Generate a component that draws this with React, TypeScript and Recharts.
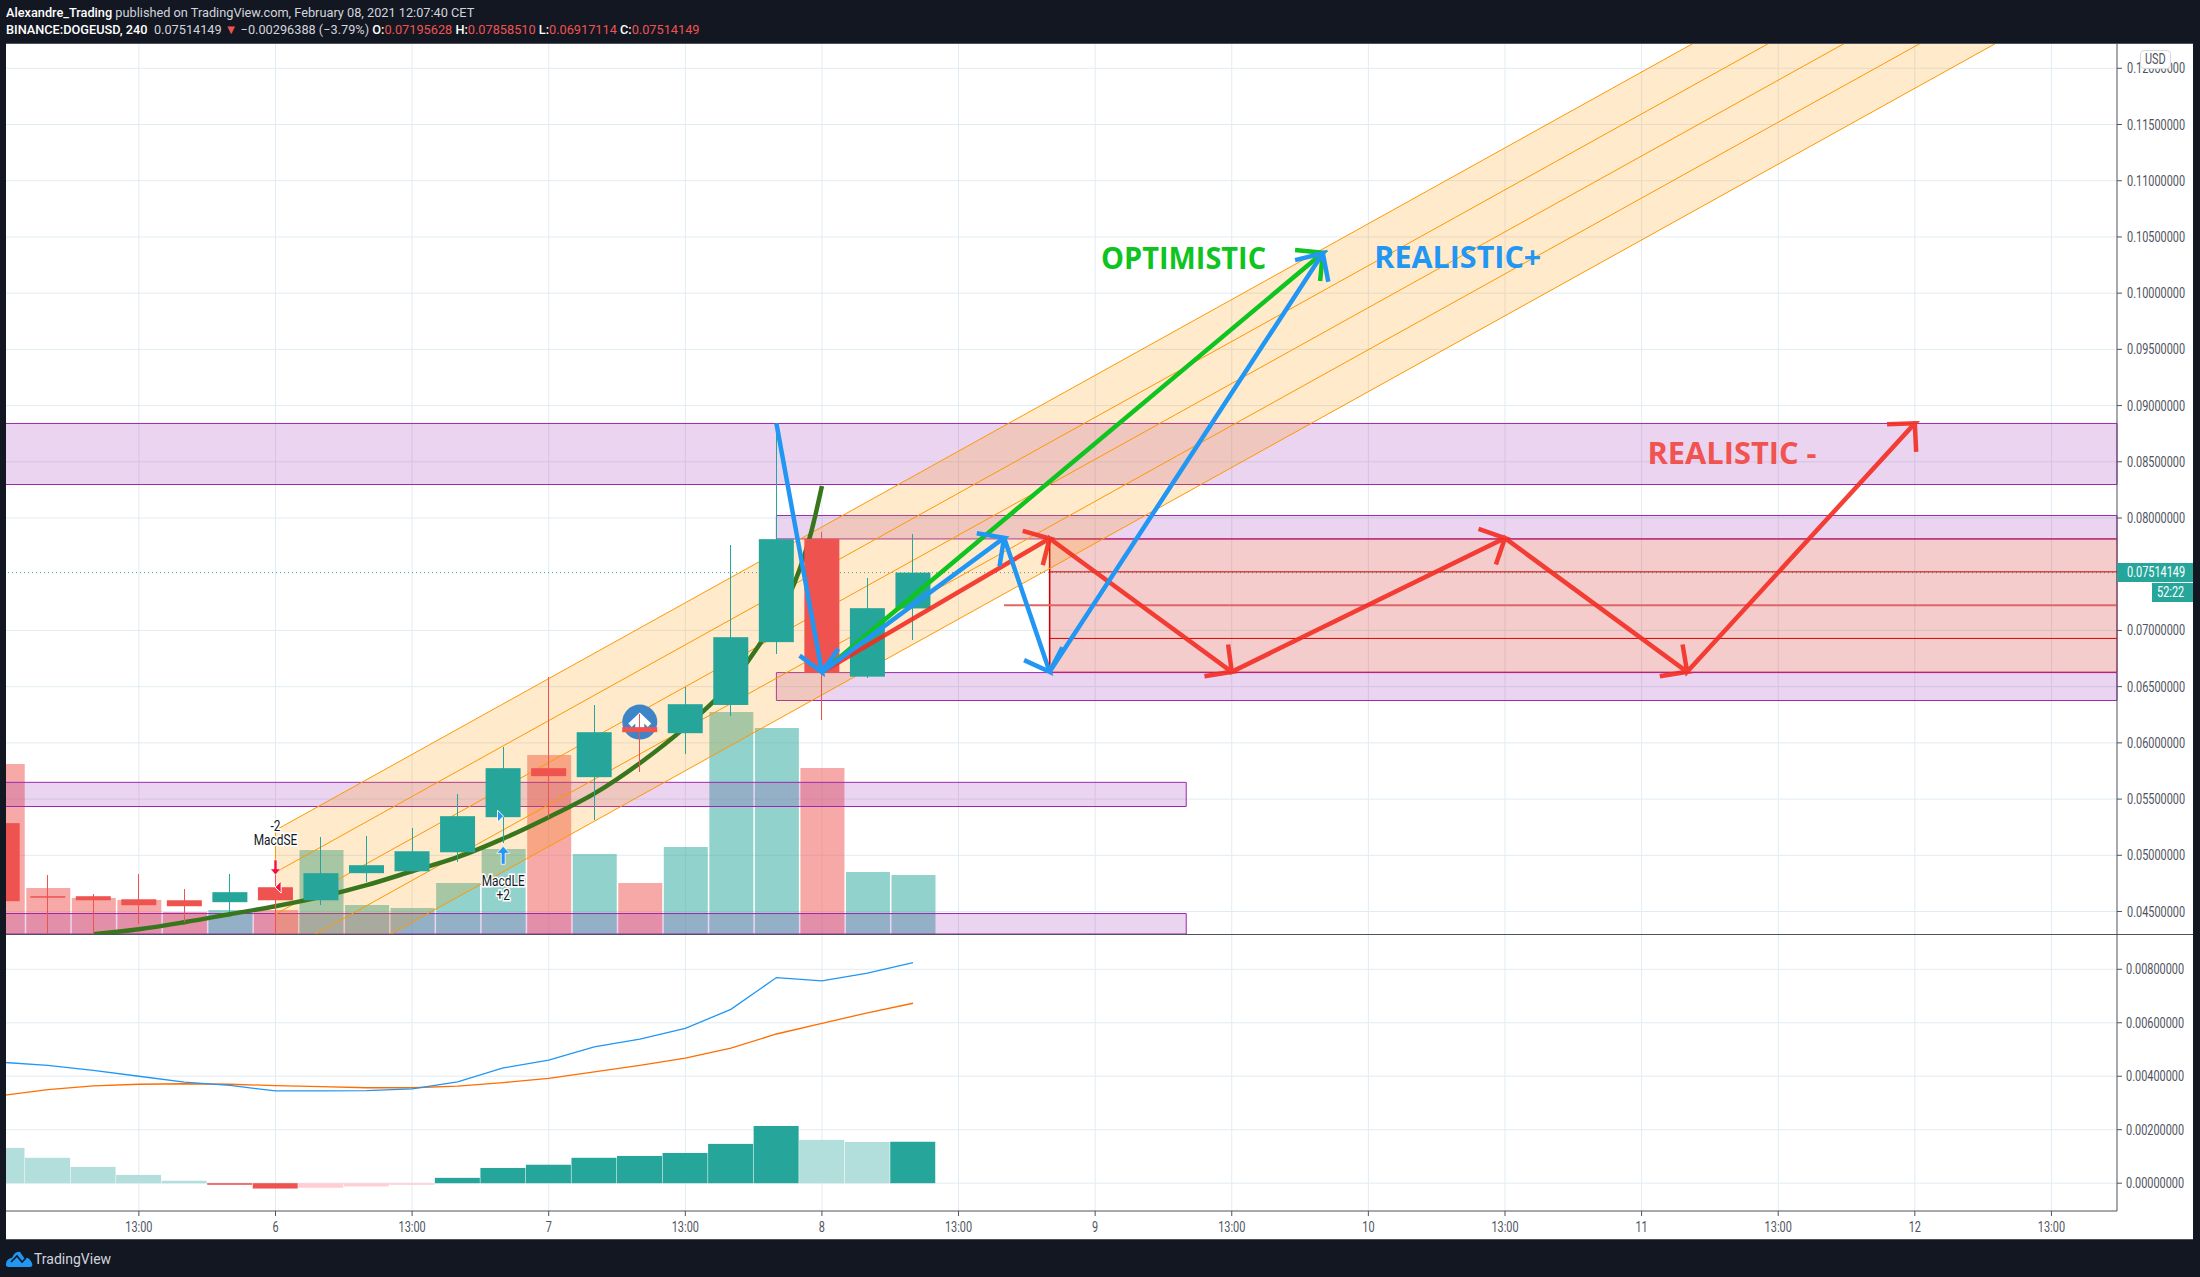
import React from "react";
import { ComposedChart, Bar, Line, Area, XAxis, YAxis, CartesianGrid, ReferenceArea, ReferenceLine, ReferenceDot } from "recharts";

const candleIdx = [-6,-5,-4,-3,-2,-1,0,1,2,3,4,5,6,7,8,9,10,11,12,13,14];
const opens  = [.05286,.04636,.04636,.04609,.04600,.04583,.04716,.04600,.04841,.04858,.05027,.05339,.05775,.05695,.06140,.06086,.06337,.06896,.07814,.06589,.07195628];
const closes = [.04592,.04627,.04600,.04556,.04547,.04672,.04600,.04841,.04912,.05036,.05348,.05775,.05704,.06095,.06095,.06344,.06940,.07812,.06623,.07198,.07514149];
const highs  = [.0535,.04823,.04654,.04832,.04698,.04832,.04852,.05161,.05170,.05241,.05544,.05964,.06584,.06335,.06255,.06497,.07759,.08841,.07875,.07465,.07858510];
const lows   = [.0425,.0425,.0425,.04387,.04407,.04496,.0425,.04556,.04760,.04858,.04938,.05110,.05332,.05312,.05739,.05899,.06239,.06791,.06205,.06580,.06917114];
const volumes = [1700,460,360,340,220,240,240,840,290,260,510,850,1790,800,510,870,2220,2060,1660,620,590];
const macdHist = [.00132,.00095,.00061,.00031,.00009,-.00006,-.00020,-.00017,-.00012,-.00006,.00020,.00057,.00069,.00095,.00102,.00113,.00147,.00214,.00162,.00154,.00155];
const macdLine = [.00452,.00441,.00422,.00400,.00378,.00366,.00345,.00345,.00346,.00353,.00379,.00431,.00460,.00510,.00539,.00579,.00650,.00769,.00757,.00786,.00825];
const signalLine = [.00328,.00350,.00364,.00370,.00372,.00370,.00365,.00361,.00357,.00357,.00363,.00376,.00392,.00416,.00441,.00468,.00505,.00558,.00598,.00637,.00673];

const emaX = [-4,-3,-2,-1,0,1,2,3,4,5,6,7,8,9,10,11,11.4,11.77,12];
const emaY = [.04298,.04342,.04405,.04476,.04547,.04630,.04734,.04858,.04983,.05148,.05339,.05548,.05819,.06140,.06531,.07118,.07425,.07883,.08284];

const channelX = [0, 40];
const channelStart = [.05223,.04849,.04476,.04102,.03729];
const channelEnd = [.14215,.13842,.13468,.13094,.12721];

const greenX = [12,23,22.39,23,22.94];
const greenY = [.06629,.10359,.10383,.10359,.10108];
const blueX = [11,12,11.51,12,12.36,12,16,15.40,16,15.90,16,17,16.44,17,17.28,17,23,22.39,23,23.12];
const blueY = [.08841,.06629,.06776,.06629,.06837,.06629,.07824,.07865,.07824,.07572,.07824,.06632,.06736,.06632,.06851,.06632,.10354,.10294,.10354,.10101];
const redX = [12,17,16.41,17,16.85,17,21,20.40,21,20.92,21,27,26.42,27,26.80,27,31,30.40,31,30.90,31,36,35.39,36,36.03];
const redY = [.06629,.07818,.07886,.07818,.07581,.07818,.06632,.06593,.06632,.06875,.06632,.07821,.07904,.07821,.07587,.07821,.06632,.06593,.06632,.06875,.06632,.08842,.08833,.08842,.08589];

const xDomain: [number, number] = [-5.94, 40.44];
const priceDomain: [number, number] = [0.0430, 0.12225];
const macdDomain: [number, number] = [-0.00104, 0.00932];
const xTicks = [-3,0,3,6,9,12,15,18,21,24,27,30,33,36,39];
const xTickLabels = ["13:00","6","13:00","7","13:00","8","13:00","9","13:00","10","13:00","11","13:00","12","13:00"];
const priceTicks = [.045,.05,.055,.06,.065,.07,.08,.085,.09,.095,.10,.105,.11,.115,.12];
const macdTicks = [0,.002,.004,.006,.008];
const lastPrice = 0.07514149;

const candles = candleIdx.map((x, i) => ({ x, open: opens[i], close: closes[i], hl: [lows[i], highs[i]], vol: volumes[i] }));
const macdRows = candleIdx.map((x, i) => ({ x, hist: macdHist[i], macd: macdLine[i], signal: signalLine[i], prev: i ? macdHist[i - 1] : macdHist[0] + 1 }));
const pts = (xs: number[], ys: number[]) => xs.map((x, i) => ({ x, y: ys[i] }));

const TEAL = "#26a69a", RED = "#ef5350", PURPLE = "#9c27b0", ORANGE = "#ff9800";
const FONT = "Roboto,'Liberation Sans',sans-serif";
const fmt = (v: number) => v.toFixed(8);

const YTick = (p: any) => (
  <g transform={`translate(${p.x},${p.y}) scale(0.78,1)`}>
    <text x={0} y={0} dy="0.36em" fill="#50535e" fontSize={14} fontFamily={FONT} textAnchor="start">{fmt(p.payload.value)}</text>
  </g>
);
const XTick = (p: any) => (
  <g transform={`translate(${p.x},${p.y}) scale(0.78,1)`}>
    <text x={0} y={0} dy="0.9em" fill="#50535e" fontSize={14} fontFamily={FONT} textAnchor="middle">{xTickLabels[xTicks.indexOf(p.payload.value)]}</text>
  </g>
);

const VolumeShape = (p: any) => (
  <rect x={p.x + p.width / 2 - 22} y={p.y} width={44} height={p.height} fill={p.payload.close >= p.payload.open ? TEAL : RED} fillOpacity={0.5} />
);
const CandleShape = (p: any) => {
  const { x, y, width, height, payload } = p;
  const [lo, hi] = payload.hl;
  const k = height / (hi - lo);
  const yOf = (v: number) => y + (hi - v) * k;
  const up = payload.close >= payload.open;
  const top = yOf(Math.max(payload.open, payload.close));
  const bot = yOf(Math.min(payload.open, payload.close));
  const c = up ? TEAL : RED;
  const cx = x + width / 2;
  return (
    <g>
      <line x1={cx} x2={cx} y1={y} y2={y + height} stroke={c} strokeWidth={1} shapeRendering="crispEdges" />
      <rect x={cx - 17.5} y={top} width={35} height={Math.max(bot - top, 1.5)} fill={c} />
    </g>
  );
};
const HistShape = (p: any) => {
  const { hist, prev } = p.payload;
  const c = hist >= 0 ? (hist >= prev ? TEAL : "#b2dfdb") : (hist <= prev ? RED : "#ffcdd2");
  return <rect x={p.x} y={Math.min(p.y, p.y + p.height)} width={p.width} height={Math.abs(p.height)} fill={c} />;
};

const BigText = (value: string, color: string, len: number) => (p: any) => (
  <text x={p.cx} y={p.cy} fill={color} fontSize={31} fontWeight={700} fontFamily="'Open Sans',sans-serif" dominantBaseline="central" textLength={len} lengthAdjust="spacingAndGlyphs">{value}</text>
);
const halo = { paintOrder: "stroke", stroke: "#fff", strokeWidth: 3 } as const;
const SmallText = (lines: string[]) => (p: any) => (
  <g transform={`translate(${p.cx},${p.cy}) scale(0.85,1)`} fontFamily={FONT} fontSize={14} fill="#131722" textAnchor="middle" style={halo}>
    {lines.map((l, i) => <text key={l} x={0} y={i * 14} dominantBaseline="central">{l}</text>)}
  </g>
);
const DownArrow = (p: any) => (
  <path d={`M${p.cx - 1.5} ${p.cy - 8}h3v9h3.5l-5 6l-5 -6h3.5z`} fill="#f50f3c" stroke="#fff" strokeWidth={0.6} />
);
const UpArrow = (p: any) => (
  <path d={`M${p.cx - 2} ${p.cy + 9}h4v-11h4.5l-6.5 -7l-6.5 7h4.5z`} fill="#2196f3" stroke="#fff" strokeWidth={0.8} />
);
const LeftTri = (p: any) => <path d={`M${p.cx - 4} ${p.cy}l6 -6v12z`} fill="#f50f3c" stroke="#fff" strokeWidth={1} />;
const RightTri = (p: any) => <path d={`M${p.cx + 4} ${p.cy}l-6 -6v12z`} fill="#2196f3" stroke="#fff" strokeWidth={1} />;
const IdeaIcon = (p: any) => (
  <g transform={`translate(${p.cx},${p.cy})`}>
    <circle r={17.5} fill="#3d85c6" />
    <path d="M0 -9.5L11.5 1.5L8 5L4.5 1.5V10H-4.5V1.5L-8 5L-11.5 1.5Z" fill="#fff" />
  </g>
);

const head: React.CSSProperties = { position: "absolute", left: 6, fontFamily: FONT, fontSize: 13, color: "#d1d4dc", whiteSpace: "nowrap", lineHeight: "16px", transform: "scaleX(0.98)", transformOrigin: "left center" };
const W = ({ children }: any) => <b style={{ color: "#fff", fontWeight: 500 }}>{children}</b>;
const R = ({ children }: any) => <span style={{ color: "#ef5350" }}>{children}</span>;
const squeezed = (left: number, top: number, text: string, color: string) => (
  <div style={{ position: "absolute", left, top, color, fontFamily: FONT, fontSize: 14, lineHeight: "19px", whiteSpace: "nowrap", transform: "scaleX(0.78)", transformOrigin: "left center" }}>{text}</div>
);

const chartW = 2188, mainH = 891;

export default function App() {
  return (
    <div style={{ position: "fixed", left: 0, top: 0, width: 2200, height: 1277, background: "#131722", overflow: "hidden" }}>
      <div style={{ ...head, top: 5 }}><W>Alexandre_Trading</W> published on TradingView.com, February 08, 2021 12:07:40 CET</div>
      <div style={{ ...head, top: 22 }}>
        <W>BINANCE:DOGEUSD, 240</W>&nbsp; 0.07514149 <R>▼</R> −0.00296388 (−3.79%) <W>O:</W><R>0.07195628</R> <W>H:</W><R>0.07858510</R> <W>L:</W><R>0.06917114</R> <W>C:</W><R>0.07514149</R>
      </div>
      <div style={{ position: "absolute", left: 5, top: 43, width: 2188, height: 1197, background: "#fff" }} />

      {/* layer 1: grid, volume, drawings, EMA */}
      <div style={{ position: "absolute", left: 5, top: 43 }}>
        <ComposedChart width={chartW} height={mainH} data={candles} margin={{ top: 0, right: 0, bottom: 0, left: 0 }}>
          <XAxis dataKey="x" type="number" domain={xDomain} ticks={xTicks} allowDataOverflow hide />
          <YAxis yAxisId="main" orientation="right" width={76} type="number" domain={priceDomain} ticks={priceTicks} allowDataOverflow
            tick={YTick} tickSize={5} tickMargin={5} axisLine={{ stroke: "#50535e" }} tickLine={{ stroke: "#50535e" }} interval={0} />
          <YAxis yAxisId="vol" hide type="number" domain={[0, 8910]} allowDataOverflow />
          <CartesianGrid yAxisId="main" stroke="#e1ecf2" strokeWidth={1} verticalValues={xTicks} horizontalValues={priceTicks} />
          <Bar yAxisId="vol" dataKey="vol" barSize={44} shape={VolumeShape} isAnimationActive={false} zIndex={10} />
          <ReferenceArea yAxisId="main" x1={xDomain[0]} x2={xDomain[1]} y1={.08841} y2={.08298} fill={PURPLE} fillOpacity={0.2} stroke={PURPLE} zIndex={20} />
          <ReferenceArea yAxisId="main" x1={11} x2={xDomain[1]} y1={.08022} y2={.07814} fill={PURPLE} fillOpacity={0.2} stroke={PURPLE} zIndex={20} />
          <ReferenceArea yAxisId="main" x1={11} x2={xDomain[1]} y1={.06625} y2={.06377} fill={PURPLE} fillOpacity={0.2} stroke={PURPLE} zIndex={20} />
          <ReferenceArea yAxisId="main" x1={xDomain[0]} x2={20} y1={.05649} y2={.05434} fill={PURPLE} fillOpacity={0.2} stroke={PURPLE} zIndex={20} />
          <ReferenceArea yAxisId="main" x1={xDomain[0]} x2={20} y1={.04482} y2={priceDomain[0]} fill={PURPLE} fillOpacity={0.2} stroke={PURPLE} zIndex={20} />
          <ReferenceArea yAxisId="main" x1={17} x2={xDomain[1]} y1={.07814} y2={.06629} fill="#cc0000" fillOpacity={0.2} stroke="#c2185b" zIndex={21} />
          <ReferenceLine yAxisId="main" segment={[{ x: 17, y: .07814 }, { x: 17, y: .06629 }]} stroke="#cc0000" strokeWidth={1.5} zIndex={22} />
          <ReferenceLine yAxisId="main" y={lastPrice} stroke={TEAL} strokeDasharray="1 3" zIndex={22} />
          <ReferenceLine yAxisId="main" segment={[{ x: 17, y: .07521 }, { x: xDomain[1], y: .07521 }]} stroke="#cc0000" zIndex={22} />
          <ReferenceLine yAxisId="main" segment={[{ x: 16, y: .07225 }, { x: xDomain[1], y: .07225 }]} stroke="#e06666" strokeWidth={2} zIndex={22} />
          <ReferenceLine yAxisId="main" segment={[{ x: 17, y: .06929 }, { x: xDomain[1], y: .06929 }]} stroke="#dd0000" zIndex={22} />
          <Area yAxisId="main" type="linear" dataKey="band" data={channelX.map((x, i) => ({ x, band: [i ? channelEnd[4] : channelStart[4], i ? channelEnd[0] : channelStart[0]] }))}
            fill={ORANGE} fillOpacity={0.2} stroke="none" dot={false} isAnimationActive={false} zIndex={30} />
          {channelStart.map((s, k) => (
            <Line key={k} yAxisId="main" type="linear" dataKey="y" data={pts(channelX, [s, channelEnd[k]])} stroke={ORANGE} strokeWidth={1} dot={false} isAnimationActive={false} zIndex={31} />
          ))}
          <Line yAxisId="main" type="linear" dataKey="y" data={pts([0, 0], [channelStart[0], channelStart[4]])} stroke={ORANGE} strokeWidth={1} dot={false} isAnimationActive={false} zIndex={31} />
          <ReferenceDot yAxisId="main" x={8} y={.06185} r={0} shape={IdeaIcon} zIndex={32} />
          <Line yAxisId="main" type="monotone" dataKey="y" data={pts(emaX, emaY)} stroke="#38761d" strokeWidth={4.5} dot={false} isAnimationActive={false} zIndex={33} />
        </ComposedChart>
      </div>

      {/* layer 2: candles, signals, arrows, captions */}
      <div style={{ position: "absolute", left: 5, top: 43 }}>
        <ComposedChart width={chartW} height={mainH} data={candles} margin={{ top: 0, right: 76, bottom: 0, left: 0 }}>
          <XAxis dataKey="x" type="number" domain={xDomain} ticks={xTicks} allowDataOverflow hide />
          <YAxis yAxisId="main" hide type="number" domain={priceDomain} allowDataOverflow />
          <Bar yAxisId="main" dataKey="hl" barSize={44} shape={CandleShape} isAnimationActive={false} zIndex={10} />
          <ReferenceDot yAxisId="main" x={0} y={.05258} r={0} shape={SmallText(["-2", "MacdSE"])} zIndex={20} />
          <ReferenceDot yAxisId="main" x={0} y={.04888} r={0} shape={DownArrow} zIndex={20} />
          <ReferenceDot yAxisId="main" x={0.08} y={.04717} r={0} shape={LeftTri} zIndex={20} />
          <ReferenceDot yAxisId="main" x={5} y={.05} r={0} shape={UpArrow} zIndex={20} />
          <ReferenceDot yAxisId="main" x={5} y={.04770} r={0} shape={SmallText(["MacdLE", "+2"])} zIndex={20} />
          <ReferenceDot yAxisId="main" x={4.92} y={.05348} r={0} shape={RightTri} zIndex={20} />
          <Line yAxisId="main" type="linear" dataKey="y" data={pts(greenX, greenY)} stroke="#0fc320" strokeWidth={4.5} dot={false} isAnimationActive={false} zIndex={30} />
          <Line yAxisId="main" type="linear" dataKey="y" data={pts(redX, redY)} stroke="#f32c22" strokeOpacity={0.9} strokeWidth={4.5} dot={false} isAnimationActive={false} zIndex={31} />
          <Line yAxisId="main" type="linear" dataKey="y" data={pts(blueX, blueY)} stroke="#2196f3" strokeWidth={4.5} dot={false} isAnimationActive={false} zIndex={32} />
          <ReferenceDot yAxisId="main" x={18.13} y={.10321} r={0} shape={BigText("OPTIMISTIC", "#0fc320", 165)} zIndex={40} />
          <ReferenceDot yAxisId="main" x={24.13} y={.10330} r={0} shape={BigText("REALISTIC+", "#2196f3", 167)} zIndex={40} />
          <ReferenceDot yAxisId="main" x={30.13} y={.08586} r={0} shape={BigText("REALISTIC -", "#f05350", 169)} zIndex={40} />
        </ComposedChart>
      </div>

      {/* MACD panel */}
      <div style={{ position: "absolute", left: 5, top: 934 }}>
        <ComposedChart width={chartW} height={306} data={macdRows} margin={{ top: 0, right: 0, bottom: 0, left: 0 }}>
          <XAxis dataKey="x" type="number" domain={xDomain} ticks={xTicks} allowDataOverflow height={29} interval={0}
            tick={XTick} tickSize={5} tickMargin={3} axisLine={{ stroke: "#50535e" }} tickLine={{ stroke: "#50535e" }} />
          <YAxis orientation="right" width={76} type="number" domain={macdDomain} ticks={macdTicks} allowDataOverflow interval={0}
            tick={YTick} tickSize={5} tickMargin={4} axisLine={{ stroke: "#50535e" }} tickLine={{ stroke: "#50535e" }} />
          <CartesianGrid stroke="#e1ecf2" strokeWidth={1} verticalValues={xTicks} horizontalValues={macdTicks} />
          <Bar dataKey="hist" barSize={45} shape={HistShape} isAnimationActive={false} zIndex={10} />
          <Line type="linear" dataKey="signal" stroke="#ff6d00" strokeWidth={1.3} dot={false} isAnimationActive={false} zIndex={20} />
          <Line type="linear" dataKey="macd" stroke="#2196f3" strokeWidth={1.3} dot={false} isAnimationActive={false} zIndex={21} />
        </ComposedChart>
      </div>

      {/* frame lines */}
      <div style={{ position: "absolute", left: 0, top: 43, width: 6, height: 1197, background: "#131722" }} />
      <div style={{ position: "absolute", left: 6, top: 43, width: 2187, height: 1, background: "#4c525e" }} />
      <div style={{ position: "absolute", left: 6, top: 934, width: 2187, height: 1, background: "#4c525e" }} />
      <div style={{ position: "absolute", left: 6, top: 1239, width: 2187, height: 1, background: "#4c525e" }} />

      {/* price scale badges */}
      <div style={{ position: "absolute", left: 2117, top: 563, width: 76, height: 19, background: TEAL }} />
      {squeezed(2127, 563, "0.07514149", "#fff")}
      <div style={{ position: "absolute", left: 2152, top: 583, width: 41, height: 19, background: TEAL }} />
      {squeezed(2157, 583, "52:22", "#fff")}
      <div style={{ position: "absolute", left: 2140, top: 50, width: 31, height: 19, background: "#fff", border: "1px solid #d6d8e0", borderRadius: 4, boxSizing: "border-box" }} />
      {squeezed(2145, 50, "USD", "#50535e")}

      {/* footer */}
      <svg style={{ position: "absolute", left: 6, top: 1250 }} width={27} height={17}>
        <path d="M0 15C0 10 3 8 6 8C8 3 11 1 14 2C15 3 18 8 19 9C21 6 24 9 26 13C27 15 26 17 24 17H3C1 17 0 16 0 15Z" fill="#2196f3" />
        <path d="M5 12L11 6L16 12L20 8" stroke="#131722" strokeWidth={1.6} fill="none" />
      </svg>
      <div style={{ position: "absolute", left: 34, top: 1250, color: "#d1d4dc", fontFamily: FONT, fontSize: 14, lineHeight: "18px" }}>TradingView</div>
    </div>
  );
}
